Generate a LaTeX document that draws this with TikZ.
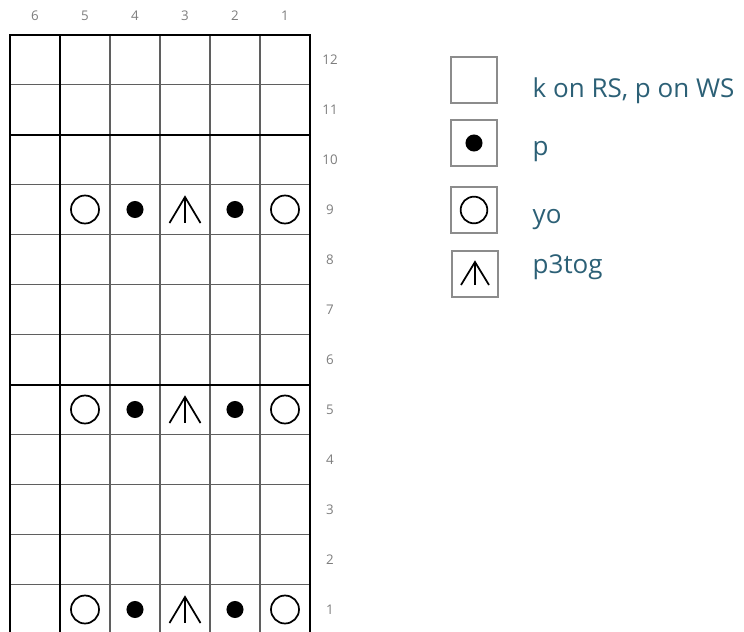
\documentclass[tikz,border=0pt]{standalone}
\usepackage{fontspec}
\setmainfont{Open Sans}
\usetikzlibrary{positioning,calc}
\definecolor{keyblue}{RGB}{44,96,118}
\definecolor{gridgray}{RGB}{95,95,95}
\definecolor{numgray}{RGB}{125,125,125}
\definecolor{boxgray}{RGB}{140,140,140}

\tikzset{
  thinrule/.style={gridgray, line width=0.8pt},
  thickrule/.style={black, line width=1.5pt},
  symline/.style={black, line width=1.3pt},
  rownum/.style={numgray, font=\fontsize{10pt}{11pt}\selectfont},
  keybox/.style={draw=boxgray, line width=0.8pt, minimum size=34.5pt, inner sep=0pt},
  keytext/.style={keyblue, anchor=base west, font=\fontsize{19.5pt}{22pt}\selectfont}
}
% stitch symbols, #1 = centre
\newcommand{\yosym}[1]{\draw[symline] (#1) circle (10.5pt);}
\newcommand{\purlsym}[1]{\fill (#1) circle (6.4pt);}
\newcommand{\ptogsym}[1]{%
  \draw[symline] ($(#1)+(-15.5,13.5)$) -- ($(#1)+(0,-12.5)$) -- ($(#1)+(15.5,13.5)$);
  \draw[symline] ($(#1)+(0,-12.5)$) -- ($(#1)+(0,13.5)$);}

\begin{document}
\begin{tikzpicture}[x=0.75pt, y=-0.75pt]
  \useasboundingbox (0,0) rectangle (744,632);
  \clip (0,0) rectangle (744,632);
  % Column and row numbers
  \foreach \c in {1,...,6}
    \node[rownum] (col\c) at ({35+(6-\c)*50}, 16) {\c};
  \foreach \r in {1,...,12}
    \node[rownum] (row\r) at (330, {59.5+(12-\r)*50}) {\r};
  % Thin grid lines
  \foreach \x in {110,160,210,260}
    \draw[thinrule] (\x,34.5) -- (\x,634.5);
  \foreach \y in {84.5,184.5,234.5,284.5,334.5,434.5,484.5,534.5,584.5}
    \draw[thinrule] (10,\y) -- (310,\y);
  % Thick grid lines
  \draw[thickrule] (10,34.5) rectangle (310,634.5);
  \draw[thickrule] (60,34.5) -- (60,634.5);
  \draw[thickrule] (10,134.5) -- (310,134.5);
  \draw[thickrule] (10,384.5) -- (310,384.5);
  % Pattern rows
  \foreach \r in {1,5,9} {
    \coordinate (s5) at (85,  {59.5+(12-\r)*50});
    \coordinate (s4) at (135, {59.5+(12-\r)*50});
    \coordinate (s3) at (185, {59.5+(12-\r)*50});
    \coordinate (s2) at (235, {59.5+(12-\r)*50});
    \coordinate (s1) at (285, {59.5+(12-\r)*50});
    \yosym{s5} \purlsym{s4} \ptogsym{s3} \purlsym{s2} \yosym{s1}
  }
  % Key
  \node[keybox] (kplain) at (474,80) {};
  \node[keybox] (kpurl) at (474,143) {};
  \node[keybox] (kyo) at (474,210) {};
  \node[keybox] (kptog) at (475,274) {};
  \purlsym{kpurl}
  \draw[symline] (kyo) circle (10pt);
  \draw[symline] ($(kptog)+(-14,11)$) -- ($(kptog)+(0,-12)$) -- ($(kptog)+(14,11)$);
  \draw[symline] ($(kptog)+(0,-12)$) -- ($(kptog)+(0,11)$);
  \node[keytext] (tplain) at (528,97) {k on RS, p on WS};
  \node[keytext] (tpurl) at (528,155) {p};
  \node[keytext] (tyo) at (528,223) {yo};
  \node[keytext] (tptog) at (528,273) {p3tog};
\end{tikzpicture}
\end{document}
